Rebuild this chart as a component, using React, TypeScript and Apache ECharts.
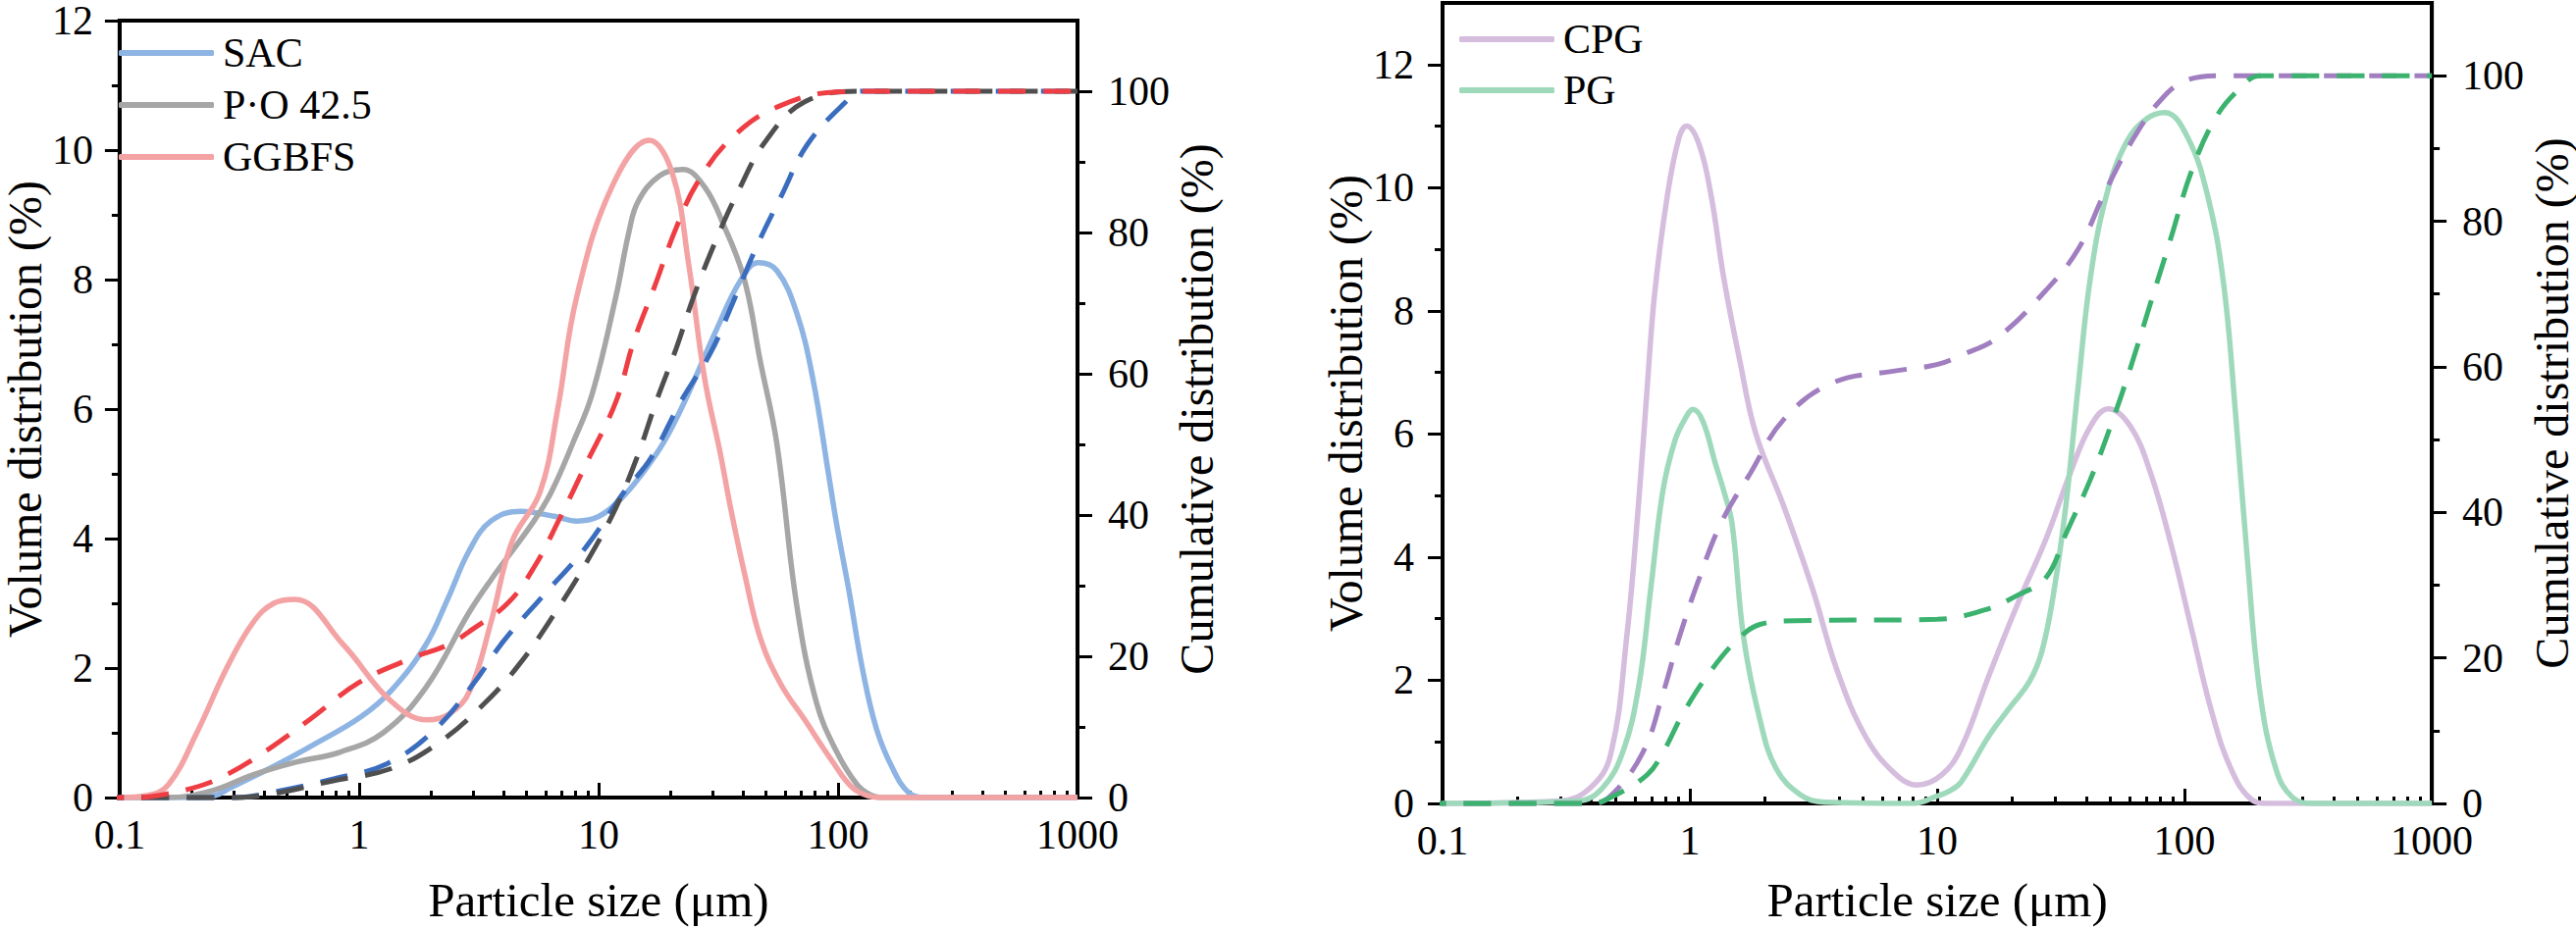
import React, { useEffect, useRef } from "react";
import * as echarts from "echarts";

const FONT = '"Liberation Serif", "Times New Roman", serif';

// ---- tick values ----
const xMajorTicks = [0.1, 1, 10, 100, 1000];
const xMinorTicks = [
  0.2, 0.3, 0.4, 0.5, 0.6, 0.7, 0.8, 0.9,
  2, 3, 4, 5, 6, 7, 8, 9,
  20, 30, 40, 50, 60, 70, 80, 90,
  200, 300, 400, 500, 600, 700, 800, 900,
];
const volumeMajorTicks = [0, 2, 4, 6, 8, 10, 12];
const volumeMinorTicks = [1, 3, 5, 7, 9, 11];
const cumulativeMajorTicks = [0, 20, 40, 60, 80, 100];
const cumulativeMinorTicks = [10, 30, 50, 70, 90];

// ---- left panel: volume distribution [size µm, %] ----
const sacVolume = [
  [0.1, 0], [0.2, 0], [0.25, 0.03], [0.29, 0.15], [0.45, 0.5], [0.67, 0.85], [1.02, 1.25],
  [1.36, 1.65], [1.9, 2.36], [2.34, 3.06], [2.88, 3.81], [3.55, 4.27], [4.73, 4.42],
  [6.6, 4.34], [8.1, 4.27], [10, 4.34], [12.3, 4.6], [15.2, 5.0], [18.6, 5.47], [22.9, 6.12],
  [31.1, 7.23], [39.2, 7.99], [46.5, 8.26], [55.5, 8.14], [67.3, 7.48], [78.5, 6.47],
  [91.5, 4.97], [98.9, 4.2], [111, 3.2], [127, 1.95], [145, 1.05], [169, 0.45], [198, 0.07],
  [230, 0], [1000, 0],
];
const poVolume = [
  [0.1, 0], [0.158, 0], [0.24, 0.1], [0.36, 0.35], [0.55, 0.55], [0.83, 0.7], [1.26, 1.0],
  [1.9, 1.7], [2.88, 2.86], [3.55, 3.36], [5.37, 4.27], [6.35, 4.72], [7.8, 5.47], [9.4, 6.23],
  [11.8, 7.73], [13.4, 8.74], [14.6, 9.2], [17.9, 9.6], [22.5, 9.7], [27.6, 9.44], [33.4, 8.83],
  [40.7, 7.99], [47.4, 6.73], [55.5, 5.47], [67.3, 2.96], [81.5, 1.45], [98.9, 0.7], [120, 0.2],
  [135, 0.05], [150, 0], [1000, 0],
];
const ggbfsVolume = [
  [0.1, 0], [0.13, 0.03], [0.16, 0.2], [0.21, 1.0], [0.28, 2.0], [0.36, 2.7], [0.44, 3.0],
  [0.54, 3.06], [0.86, 2.36], [1.35, 1.5], [1.92, 1.2], [2.4, 1.3], [2.9, 1.65], [3.55, 2.7],
  [4.36, 3.96], [5.7, 4.72], [6.75, 6.0], [8.1, 7.73], [11.4, 9.44], [16.3, 10.15], [20.3, 9.65],
  [23.8, 8.23], [27.7, 6.48], [32.3, 5.3], [35.6, 4.47], [40.7, 3.46], [47.4, 2.46], [57.7, 1.75],
  [72.6, 1.2], [95, 0.55], [115, 0.15], [135, 0.02], [150, 0], [1000, 0],
];

// ---- left panel: cumulative distribution [size µm, %] ----
const sacCumulative = [
  [0.08, 0], [0.3, 0], [0.46, 0.9], [0.79, 2.7], [1.31, 4.8], [2.07, 9.6], [3.0, 16.1],
  [4.0, 22.1], [5.84, 28.5], [8.83, 35.4], [12.8, 43.3], [16.5, 48], [22, 56], [29.4, 63],
  [36.3, 70], [45.7, 78], [58, 85.2], [74.6, 92.5], [107, 98.4], [125, 100], [1000, 100],
];
const poCumulative = [
  [0.08, 0], [0.3, 0], [0.43, 0.5], [0.76, 2.3], [1.36, 4.1], [2.16, 7.8], [3.33, 13.3],
  [4.65, 18.8], [6.6, 26.2], [8.8, 33], [11.8, 41], [14.6, 48.5], [17.3, 55.8], [21.1, 63.6],
  [25, 71], [31, 79], [38.5, 86], [50, 93], [72.6, 98.5], [125, 100], [1000, 100],
];
const ggbfsCumulative = [
  [0.08, 0], [0.12, 0], [0.145, 0.3], [0.2, 1.3], [0.26, 2.7], [0.38, 5.9], [0.62, 11],
  [1.0, 16.3], [1.68, 19.8], [2.34, 21.6], [3.0, 23.9], [4.2, 27.6], [5.4, 32.7], [6.9, 39.6],
  [8.8, 47], [11.8, 56], [14, 64.5], [17.2, 72.5], [21, 80.5], [25.8, 87], [36, 93.4],
  [56, 97.8], [99, 99.9], [150, 100], [1000, 100],
];

// ---- right panel: volume distribution ----
const cpgVolume = [
  [0.1, 0], [0.3, 0.04], [0.395, 0.25], [0.477, 0.78], [0.555, 2.69], [0.621, 4.9],
  [0.67, 6.68], [0.72, 8.27], [0.81, 9.86], [0.905, 10.82], [0.97, 11.0], [1.09, 10.7],
  [1.22, 9.86], [1.37, 8.54], [1.59, 7.2], [1.85, 6.0], [2.4, 4.82], [3.13, 3.49], [3.93, 2.17],
  [5.11, 1.1], [6.64, 0.51], [8.3, 0.3], [10.4, 0.46], [12.5, 0.9], [16.2, 2.08], [21.1, 3.23],
  [27.5, 4.29], [34.4, 5.35], [41.6, 6.12], [49.2, 6.41], [60.5, 6.12], [73.1, 5.35],
  [88.3, 4.2], [106.5, 2.85], [128.5, 1.5], [155, 0.54], [187, 0.06], [218, 0], [1000, 0],
];
const pgVolume = [
  [0.1, 0], [0.353, 0.04], [0.443, 0.25], [0.535, 0.83], [0.621, 1.9], [0.695, 3.49],
  [0.778, 5.08], [0.871, 5.9], [0.957, 6.25], [1.03, 6.4], [1.13, 6.2], [1.27, 5.51],
  [1.37, 5.08], [1.48, 4.55], [1.65, 2.69], [1.92, 1.36], [2.23, 0.57], [2.8, 0.14], [3.5, 0.02],
  [8, 0], [10, 0.12], [11.2, 0.2], [12.5, 0.35], [16.2, 1.1], [19.6, 1.55], [23.6, 1.98],
  [26.5, 2.47], [29.6, 3.43], [33.2, 4.87], [37.2, 6.79], [41.6, 8.53], [48.3, 9.87],
  [58.3, 10.74], [70.4, 11.12], [83.4, 11.22], [102.6, 10.83], [124, 9.87], [144, 8.43],
  [161, 6.31], [180, 3.91], [202, 1.79], [235, 0.54], [273, 0.1], [330, 0], [1000, 0],
];

// ---- right panel: cumulative distribution ----
const cpgCumulative = [
  [0.08, 0], [0.4, 0], [0.477, 1], [0.645, 7], [0.778, 15.1], [0.905, 22.8], [1.09, 30.9],
  [1.34, 38.6], [1.75, 45.3], [2.4, 52.8], [3.78, 57.8], [6.64, 59.4], [9.96, 60.3],
  [12.5, 61.6], [17.5, 64], [27.5, 70.5], [37.2, 76.2], [48.3, 84.4], [63, 91.7], [81.8, 97],
  [102.6, 99.4], [139, 100], [1000, 100],
];
const pgCumulative = [
  [0.08, 0], [0.4, 0], [0.477, 0.8], [0.67, 3.9], [0.778, 7], [0.94, 12.4], [1.22, 18.3],
  [1.59, 22.8], [1.92, 24.6], [2.67, 25.1], [10, 25.3], [15.6, 26.6], [21.1, 28.6], [27.5, 31],
  [33.2, 37.1], [41.6, 44.5], [50.2, 51.8], [60.5, 59.9], [73.1, 68.9], [88.3, 77.8],
  [106.5, 86.8], [133, 94.1], [167, 98.2], [202, 100], [1000, 100],
];

const fmtX = (v: number) => String(parseFloat(Number(v).toPrecision(6)));

function mainX(gridIndex: number, nameGap: number) {
  return {
    type: "log",
    logBase: 10,
    gridIndex,
    min: 0.1,
    max: 1000,
    position: "bottom",
    name: "Particle size (μm)",
    nameLocation: "middle",
    nameGap,
    nameTextStyle: { fontFamily: FONT, fontSize: 49, color: "#000" },
    axisLine: { show: true, onZero: false, lineStyle: { color: "#000", width: 4 } },
    axisTick: {
      show: true,
      inside: true,
      length: 15,
      customValues: xMajorTicks,
      lineStyle: { color: "#000", width: 3 },
    },
    axisLabel: {
      show: true,
      customValues: xMajorTicks,
      formatter: fmtX,
      fontFamily: FONT,
      fontSize: 42,
      lineHeight: 40,
      color: "#000",
      margin: 18,
    },
    splitLine: { show: false },
    minorTick: { show: false },
    minorSplitLine: { show: false },
  };
}
function minorX(gridIndex: number) {
  return {
    type: "log",
    logBase: 10,
    gridIndex,
    min: 0.1,
    max: 1000,
    position: "bottom",
    axisLine: { show: false, onZero: false },
    axisLabel: { show: false },
    splitLine: { show: false },
    axisTick: {
      show: true,
      inside: true,
      length: 7,
      customValues: xMinorTicks,
      lineStyle: { color: "#000", width: 3 },
    },
  };
}
function mainY(
  gridIndex: number,
  position: string,
  max: number,
  ticks: number[],
  name: string,
  nameGap: number,
  labelMargin: number
) {
  return {
    type: "value",
    gridIndex,
    position,
    min: 0,
    max,
    name,
    nameLocation: "middle",
    nameGap,
    nameTextStyle: { fontFamily: FONT, fontSize: 48, color: "#000", lineHeight: 46 },
    axisLine: { show: true, onZero: false, lineStyle: { color: "#000", width: 4 } },
    axisTick: {
      show: true,
      inside: false,
      length: 15,
      customValues: ticks,
      lineStyle: { color: "#000", width: 3 },
    },
    axisLabel: {
      show: true,
      customValues: ticks,
      fontFamily: FONT,
      fontSize: 42,
      lineHeight: 32,
      color: "#000",
      margin: labelMargin,
    },
    splitLine: { show: false },
  };
}
function minorY(gridIndex: number, position: string, max: number, ticks: number[]) {
  return {
    type: "value",
    gridIndex,
    position,
    min: 0,
    max,
    axisLine: { show: false, onZero: false },
    axisLabel: { show: false },
    splitLine: { show: false },
    axisTick: {
      show: true,
      inside: false,
      length: 8,
      customValues: ticks,
      lineStyle: { color: "#000", width: 3 },
    },
  };
}

function solid(name: string, data: number[][], color: string, xi: number, yi: number) {
  return {
    type: "line",
    name,
    data,
    xAxisIndex: xi,
    yAxisIndex: yi,
    smooth: 0.4,
    symbol: "none",
    lineStyle: { color, width: 5.5 },
    itemStyle: { color },
    z: 2,
  };
}
function dashed(name: string, data: number[][], color: string, xi: number, yi: number) {
  return {
    type: "line",
    name,
    data,
    xAxisIndex: xi,
    yAxisIndex: yi,
    smooth: 0.4,
    symbol: "none",
    clip: false,
    lineStyle: { color, width: 5, type: [28, 18] },
    itemStyle: { color },
    z: 3,
  };
}

const C = {
  sac: "#8eb4e3",
  po: "#a6a6a6",
  ggbfs: "#f4a3a5",
  sacD: "#3b6dbf",
  poD: "#4f4f4f",
  ggbfsD: "#ee3e44",
  cpg: "#d5bdde",
  pg: "#9fd9bb",
  cpgD: "#a07ec0",
  pgD: "#3cb26f",
};

export default function App() {
  const ref = useRef<HTMLDivElement>(null);
  useEffect(() => {
    if (!ref.current) return;
    const chart = echarts.init(ref.current, undefined, { renderer: "svg" });
    const legendText = { fontFamily: FONT, fontSize: 42, color: "#000", padding: [0, 0, 0, 4] };
    chart.setOption({
      animation: false,
      backgroundColor: "#fff",
      grid: [
        { left: 108, top: 16, width: 990, height: 797, show: true, borderColor: "#000", borderWidth: 4, backgroundColor: "transparent" },
        { left: 1470, top: 3, width: 1013, height: 817, show: true, borderColor: "#000", borderWidth: 4, backgroundColor: "transparent" },
      ],
      legend: [
        {
          data: ["SAC", "P·O 42.5", "GGBFS"],
          orient: "vertical",
          left: 116,
          top: 28,
          icon: "roundRect",
          itemWidth: 97,
          itemHeight: 6,
          itemGap: 11,
          textStyle: legendText,
          selectedMode: false,
        },
        {
          data: ["CPG", "PG"],
          orient: "vertical",
          left: 1482,
          top: 14,
          icon: "roundRect",
          itemWidth: 97,
          itemHeight: 6,
          itemGap: 10,
          textStyle: legendText,
          selectedMode: false,
        },
      ],
      xAxis: [mainX(0, 80), minorX(0), mainX(1, 74), minorX(1)],
      yAxis: [
        mainY(0, "left", 12, volumeMajorTicks, "Volume distribution (%)", 50, 27),
        minorY(0, "left", 12, volumeMinorTicks),
        mainY(0, "right", 110, cumulativeMajorTicks, "Cumulative distribution (%)", 88, 31),
        minorY(0, "right", 110, cumulativeMinorTicks),
        mainY(1, "left", 13, volumeMajorTicks, "Volume distribution (%)", 68, 29),
        minorY(1, "left", 13, volumeMinorTicks),
        mainY(1, "right", 110, cumulativeMajorTicks, "Cumulative distribution (%)", 88, 31),
        minorY(1, "right", 110, cumulativeMinorTicks),
      ],
      series: [
        solid("SAC", sacVolume, C.sac, 0, 0),
        solid("P·O 42.5", poVolume, C.po, 0, 0),
        solid("GGBFS", ggbfsVolume, C.ggbfs, 0, 0),
        dashed("SAC cumulative", sacCumulative, C.sacD, 0, 2),
        dashed("P·O 42.5 cumulative", poCumulative, C.poD, 0, 2),
        dashed("GGBFS cumulative", ggbfsCumulative, C.ggbfsD, 0, 2),
        solid("CPG", cpgVolume, C.cpg, 2, 4),
        solid("PG", pgVolume, C.pg, 2, 4),
        dashed("CPG cumulative", cpgCumulative, C.cpgD, 2, 6),
        dashed("PG cumulative", pgCumulative, C.pgD, 2, 6),
      ],
    });
    return () => chart.dispose();
  }, []);
  return (
    <div
      ref={ref}
      style={{ position: "absolute", left: 0, top: 0, width: 2625, height: 947 }}
    />
  );
}
